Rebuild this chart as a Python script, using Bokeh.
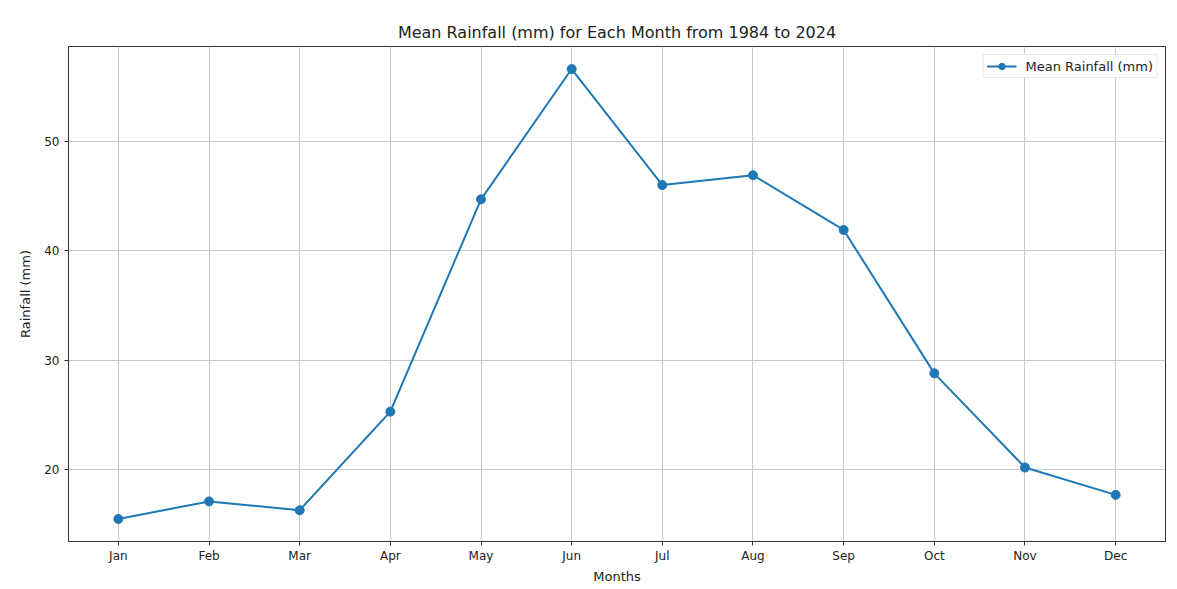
from bokeh.plotting import figure
from bokeh.models import Range1d, FixedTicker, Legend, LegendItem, ColumnDataSource
from bokeh.embed import file_html
from bokeh.resources import INLINE

months = ["Jan", "Feb", "Mar", "Apr", "May", "Jun", "Jul", "Aug", "Sep", "Oct", "Nov", "Dec"]
rainfall = [15.5, 17.1, 16.3, 25.3, 44.7, 56.6, 46.0, 46.9, 41.9, 28.8, 20.2, 17.7]
y_ticks = [20, 30, 40, 50]

xs = list(range(len(months)))
src = ColumnDataSource(dict(x=xs, y=rainfall))

p = figure(width=1177, height=589, output_backend="svg", toolbar_location=None,
           x_range=Range1d(-0.55, 11.55), y_range=Range1d(13.44, 58.66),
           min_border_left=68, min_border_right=12, min_border_top=46, min_border_bottom=48)

p.title.text = "Mean Rainfall (mm) for Each Month from 1984 to 2024"
p.title.align = "center"
p.title.text_font = "DejaVu Sans"
p.title.text_font_size = "16px"
p.title.text_font_style = "normal"
p.title.text_color = "#222222"
p.title.offset = 0

line = p.line("x", "y", source=src, line_color="#1f77b4", line_width=2)
pts = p.scatter("x", "y", source=src, size=9, fill_color="#1f77b4", line_color="#1f77b4")

p.xaxis.ticker = FixedTicker(ticks=xs)
p.xaxis.major_label_overrides = {i: m for i, m in enumerate(months)}
p.yaxis.ticker = FixedTicker(ticks=y_ticks)

for ax in (p.xaxis[0], p.yaxis[0]):
    ax.major_label_text_font = "DejaVu Sans"
    ax.major_label_text_font_size = "12px"
    ax.major_label_text_color = "#222222"
    ax.axis_label_text_font = "DejaVu Sans"
    ax.axis_label_text_font_size = "13px"
    ax.axis_label_text_font_style = "normal"
    ax.axis_label_text_color = "#222222"
    ax.major_tick_in = 0
    ax.major_tick_out = 4
    ax.minor_tick_line_color = None
    ax.axis_line_color = "#333333"
    ax.major_tick_line_color = "#333333"

p.xaxis.axis_label = "Months"
p.yaxis.axis_label = "Rainfall (mm)"
p.xaxis.major_label_standoff = 3
p.xaxis.axis_label_standoff = 3
p.yaxis.major_label_standoff = 5
p.yaxis.axis_label_standoff = 8

p.xgrid.grid_line_color = "#c8c8c8"
p.ygrid.grid_line_color = "#c8c8c8"
p.xgrid.grid_line_width = 1
p.ygrid.grid_line_width = 1

p.outline_line_color = "#333333"
p.outline_line_width = 1

legend = Legend(items=[LegendItem(label="Mean Rainfall (mm)", renderers=[line, pts])],
                location="top_right")
legend.label_text_font = "DejaVu Sans"
legend.label_text_font_size = "13px"
legend.label_text_color = "#222222"
legend.border_line_color = "#d0d0d0"
legend.border_line_width = 1
legend.background_fill_alpha = 0.9
legend.margin = 8
legend.padding = 3
legend.spacing = 0
legend.glyph_width = 30
legend.glyph_height = 16
legend.label_height = 16
legend.label_standoff = 9
p.add_layout(legend)

p.background_fill_color = "white"
p.border_fill_color = "white"

open("out.html", "w").write(file_html(p, INLINE))
